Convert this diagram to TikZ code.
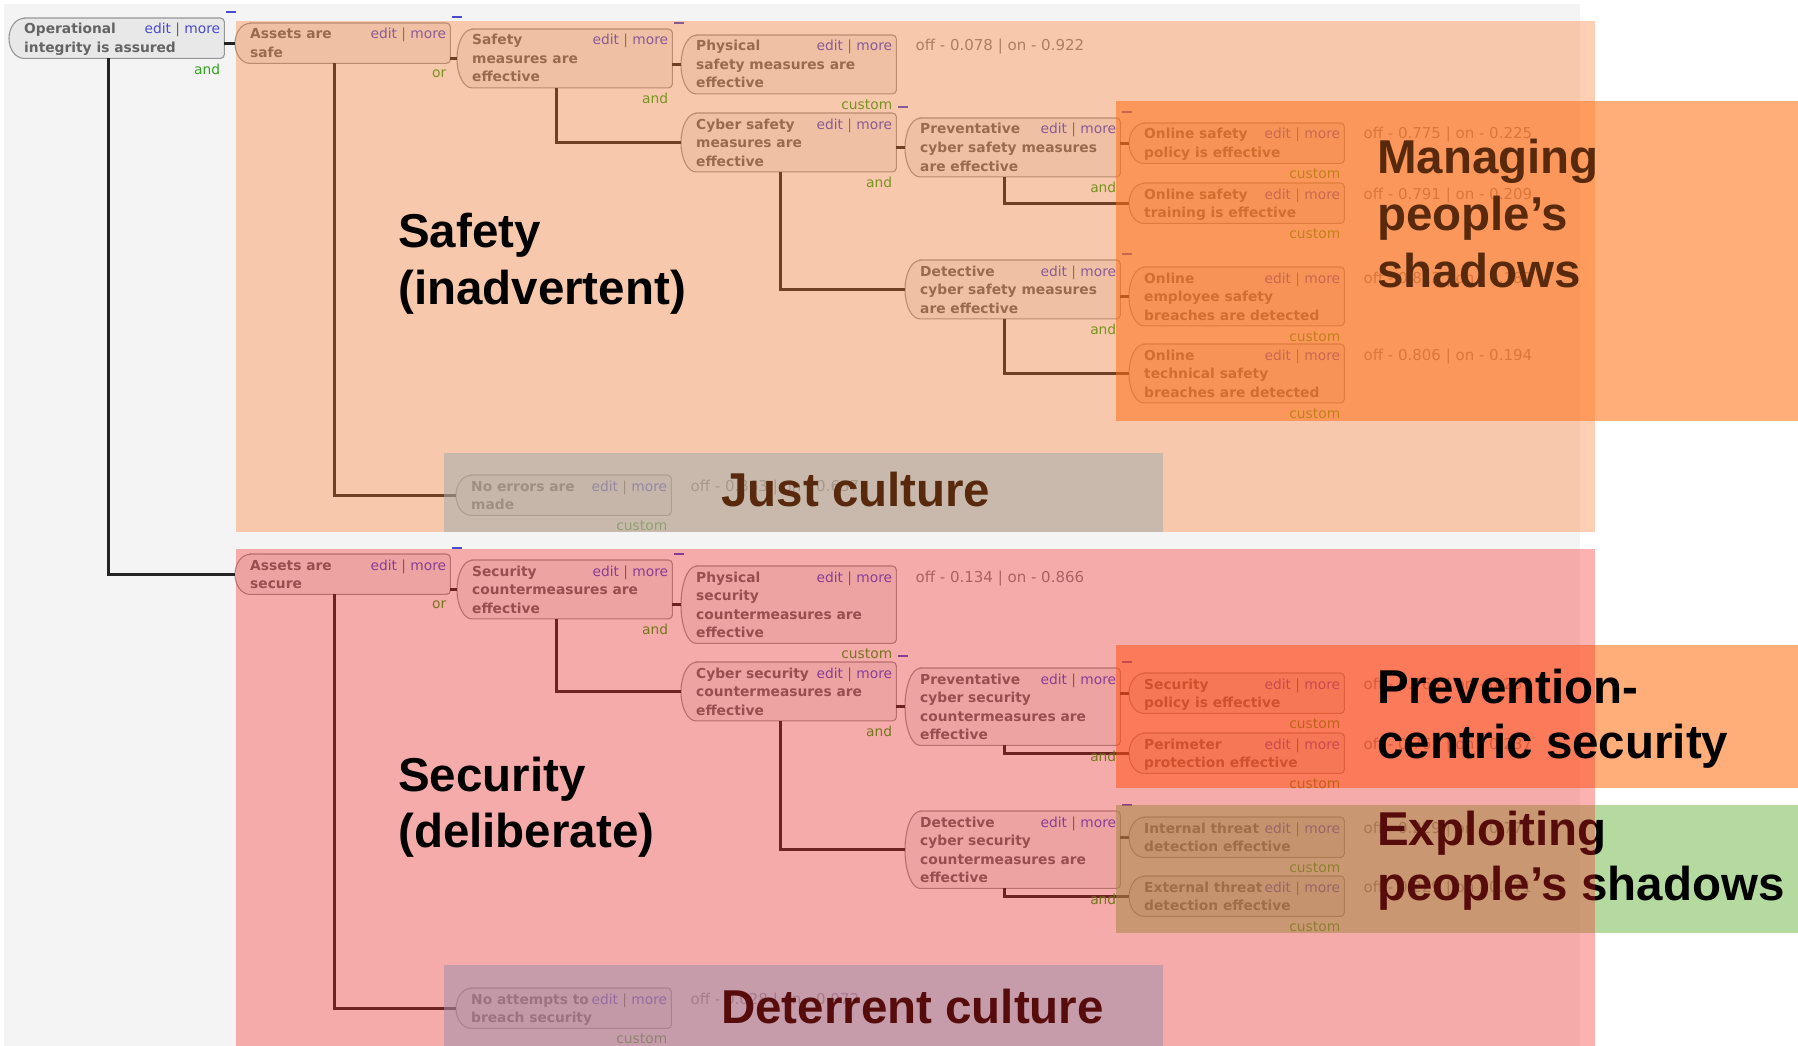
\documentclass[tikz,border=0pt]{standalone}
\usepackage{fontspec}
\setmainfont{DejaVu Sans}
\newfontfamily\headfont{Liberation Sans}
\usetikzlibrary{calc}

\definecolor{bggrey}{RGB}{244,244,244}
\definecolor{boxfill}{RGB}{232,232,232}
\definecolor{boxedge}{RGB}{150,150,150}
\definecolor{boxtext}{RGB}{100,100,100}
\definecolor{linkblue}{RGB}{75,75,205}
\definecolor{gatecol}{RGB}{50,160,30}
\definecolor{wirecol}{RGB}{35,35,35}
\definecolor{valtext}{RGB}{130,130,130}
\definecolor{safetyveil}{RGB}{255,120,40}
\definecolor{securityveil}{RGB}{251,37,37}
\definecolor{shadoworange}{RGB}{255,108,13}
\definecolor{shadowgreen}{RGB}{119,188,82}
\definecolor{culturetint}{RGB}{112,203,245}

% one goal box of the tree: name, left x, top y, number of lines, title lines
\newcommand\treebox[5]{%
  \pgfmathsetmacro\boxh{3+18.5*#4}%
  \pgfmathsetmacro\boxhr{\boxh/2}%
  \node[tbox, minimum height=\boxh pt] (#1) at (#2,-#3) {};
  \draw[tshape] ($(#1.north west)+(15,0)$) -- ($(#1.north east)+(-4,0)$)
     arc[start angle=90, end angle=0, radius=4pt]
     -- ($(#1.south east)+(0,4)$)
     arc[start angle=0, end angle=-90, radius=4pt]
     -- ($(#1.south west)+(15,0)$)
     arc[start angle=270, end angle=90, x radius=15pt, y radius=\boxhr pt] -- cycle;
  \foreach \tline [count=\k] in {#5} {
    \node[ttitle] (#1-t\k) at ($(#1.north west)+(15,{-16-18.5*(\k-1)})$) {\tline};
  }
  \node[tlink] (#1-e) at ($(#1.north east)+(-4,-16)$)
    {\textcolor{linkblue}{edit} | \textcolor{linkblue}{more}};
}
\newcommand\stub[2]{\draw[wire] (#2.west -| #1.east) -- (#2.west);}
\newcommand\branch[2]{\draw[wire] ($(#1.south west)+(99,0)$) |- (#2.west);}
\newcommand\handle[1]{\draw[handlebar] ($(#1.north east)+(2,6)$) -- ++(10,0);}
\newcommand\gate[2]{\node[tgate] (#1-g) at ($(#1.south east)+(-4,-10.5)$) {#2};}
\newcommand\score[2]{\node[tval] (#1-v) at ($(#1.north east)+(19,-16)$) {#2};}

\begin{document}
\begin{tikzpicture}[x=1pt, y=1pt,
  tbox/.style={rectangle, inner sep=0pt, minimum width=215pt, anchor=north west},
  tshape/.style={draw=boxedge, fill=boxfill, line width=1.1pt},
  ttitle/.style={inner sep=0pt, anchor=base west, text=boxtext,
    font=\fontsize{13.8}{16}\selectfont\bfseries},
  tlink/.style={inner sep=0pt, anchor=base east, text=boxtext,
    font=\fontsize{13.8}{16}\selectfont},
  tgate/.style={inner sep=0pt, anchor=east, text=gatecol,
    font=\fontsize{13.8}{16}\selectfont},
  tval/.style={inner sep=0pt, anchor=base west, text=valtext,
    font=\fontsize{15}{18}\selectfont},
  wire/.style={draw=wirecol, line width=3pt},
  handlebar/.style={draw=linkblue, line width=2.6pt},
  big/.style={inner sep=0pt, anchor=base west, text=black,
    font=\headfont\bfseries\fontsize{47.5}{57}\selectfont}]

\useasboundingbox (0,0) rectangle (1798,-1046);
\fill[white] (0,0) rectangle (1798,-1046);
\fill[bggrey] (4,-4) rectangle (1580,-1046);

% ---------------- goal tree ----------------
\treebox{op}{9}{18}{2}{Operational,integrity is assured}
\treebox{safe}{235}{23}{2}{Assets are,safe}
\treebox{smeas}{457}{29}{3}{Safety,measures are,effective}
\treebox{phys}{681}{35}{3}{Physical,safety measures are,effective}
\treebox{cyber}{681}{113}{3}{Cyber safety,measures are,effective}
\treebox{prev}{905}{118}{3}{Preventative,cyber safety measures,are effective}
\treebox{pol}{1129}{123}{2}{Online safety,policy is effective}
\treebox{train}{1129}{183}{2}{Online safety,training is effective}
\treebox{det}{905}{260}{3}{Detective,cyber safety measures,are effective}
\treebox{emp}{1129}{267}{3}{Online,employee safety,breaches are detected}
\treebox{tech}{1129}{344}{3}{Online,technical safety,breaches are detected}
\treebox{noerr}{456}{475}{2}{No errors are,made}

\treebox{sec}{235}{554}{2}{Assets are,secure}
\treebox{smeasb}{457}{560}{3}{Security,countermeasures are,effective}
\treebox{physb}{681}{566}{4}{Physical,security,countermeasures are,effective}
\treebox{cyberb}{681}{662}{3}{Cyber security,countermeasures are,effective}
\treebox{prevb}{905}{668}{4}{Preventative,cyber security,countermeasures are,effective}
\treebox{spol}{1129}{673}{2}{Security,policy is effective}
\treebox{perim}{1129}{733}{2}{Perimeter,protection effective}
\treebox{detb}{905}{811}{4}{Detective,cyber security,countermeasures are,effective}
\treebox{intl}{1129}{817}{2}{Internal threat,detection effective}
\treebox{extl}{1129}{876}{2}{External threat,detection effective}
\treebox{noatt}{456}{988}{2}{No attempts to,breach security}

% connectors
\stub{op}{safe}      \branch{op}{sec}
\stub{safe}{smeas}   \branch{safe}{noerr}
\stub{smeas}{phys}   \branch{smeas}{cyber}
\stub{cyber}{prev}   \branch{cyber}{det}
\stub{prev}{pol}     \branch{prev}{train}
\stub{det}{emp}      \branch{det}{tech}
\stub{sec}{smeasb}   \branch{sec}{noatt}
\stub{smeasb}{physb} \branch{smeasb}{cyberb}
\stub{cyberb}{prevb} \branch{cyberb}{detb}
\stub{prevb}{spol}   \branch{prevb}{perim}
\stub{detb}{intl}    \branch{detb}{extl}

% collapse handles
\handle{op} \handle{safe} \handle{smeas} \handle{cyber} \handle{prev} \handle{det}
\handle{sec} \handle{smeasb} \handle{cyberb} \handle{prevb} \handle{detb}

% gate labels
\gate{op}{and} \gate{safe}{or} \gate{smeas}{and} \gate{phys}{custom}
\gate{cyber}{and} \gate{prev}{and} \gate{pol}{custom} \gate{train}{custom}
\gate{det}{and} \gate{emp}{custom} \gate{tech}{custom} \gate{noerr}{custom}
\gate{sec}{or} \gate{smeasb}{and} \gate{physb}{custom} \gate{cyberb}{and}
\gate{prevb}{and} \gate{spol}{custom} \gate{perim}{custom} \gate{detb}{and}
\gate{intl}{custom} \gate{extl}{custom} \gate{noatt}{custom}

% leaf probabilities
\score{phys}{off - 0.078 | on - 0.922}
\score{pol}{off - 0.775 | on - 0.225}
\score{train}{off - 0.791 | on - 0.209}
\score{emp}{off - 0.813 | on - 0.187}
\score{tech}{off - 0.806 | on - 0.194}
\score{noerr}{off - 0.363 | on - 0.637}
\score{physb}{off - 0.134 | on - 0.866}
\score{spol}{off - 0.763 | on - 0.237}
\score{perim}{off - 0.763 | on - 0.237}
\score{intl}{off - 0.229 | on - 0.771}
\score{extl}{off - 0.229 | on - 0.771}
\score{noatt}{off - 0.028 | on - 0.972}

% ---------------- tinted callouts ----------------
\fill[shadoworange, fill opacity=0.55] (1116,-101) rectangle (1798,-421);
\fill[shadoworange, fill opacity=0.55] (1116,-645) rectangle (1798,-788);
\fill[shadowgreen, fill opacity=0.55] (1116,-805) rectangle (1798,-933);
\fill[culturetint, fill opacity=0.55] (444,-453) rectangle (1163,-532);
\fill[culturetint, fill opacity=0.55] (444,-965) rectangle (1163,-1046);

\node[big] (mg1) at (1377,-173) {Managing};
\node[big] (mg2) at (1377,-230) {people’s};
\node[big] (mg3) at (1377,-287) {shadows};
\node[big] (ex1) at (1377,-845) {Exploiting};
\node[big] (ex2) at (1377,-900) {people’s shadows};
\node[big] (just) at (721,-506) {Just culture};
\node[big] (deter) at (721,-1023) {Deterrent culture};

% ---------------- safety / security veils ----------------
\fill[safetyveil, fill opacity=0.35] (236,-21) rectangle (1595,-532);
\fill[securityveil, fill opacity=0.35] (236,-549) rectangle (1595,-1046);

\node[big] (sf1) at (398,-247) {Safety};
\node[big] (sf2) at (398,-304) {(inadvertent)};
\node[big] (sc1) at (398,-791) {Security};
\node[big] (sc2) at (398,-847) {(deliberate)};
\node[big] (pv1) at (1377,-703) {Prevention-};
\node[big] (pv2) at (1377,-758) {centric security};

\end{tikzpicture}
\end{document}
